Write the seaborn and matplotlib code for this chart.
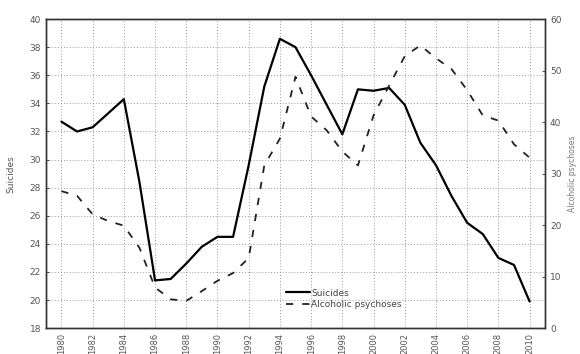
import matplotlib
matplotlib.use("Agg")
import matplotlib.pyplot as plt
import seaborn as sns
import pandas as pd

# -------------------------
# DATA
# -------------------------
years = list(range(1980, 2011))
suicides = [32.7, 32.0, 32.3, 33.3, 34.3, 28.4, 21.4, 21.5, 22.6, 23.8, 24.5,
            24.5, 29.6, 35.2, 38.6, 38.0, 36.0, 33.9, 31.8, 35.0, 34.9,
            35.1, 33.9, 31.2, 29.6, 27.4, 25.5, 24.7, 23.0, 22.5, 19.9]
alcoholic = [26.6, 25.7, 22.1, 20.8, 19.9, 15.6, 7.9, 5.6, 5.3, 7.2, 9.2,
             10.7, 13.6, 31.6, 36.8, 48.8, 41.1, 38.4, 34.3, 31.6, 41.3,
             47.1, 52.8, 54.9, 52.4, 50.3, 46.2, 41.3, 40.3, 35.7, 33.1]

df = pd.DataFrame({"Year": years, "Suicides": suicides, "Alcoholic psychoses": alcoholic})

# -------------------------
# PLOT
# -------------------------
sns.set_style("white")
plt.rcParams["font.family"] = ["DejaVu Sans"]

fig = plt.figure(figsize=(5.8, 3.54), dpi=100)
ax = fig.add_axes([0.079, 0.073, 0.861, 0.873])
ax2 = ax.twinx()

sns.lineplot(data=df, x="Year", y="Suicides", ax=ax, color="black",
             linewidth=1.6, label="Suicides", legend=False)
sns.lineplot(data=df, x="Year", y="Alcoholic psychoses", ax=ax2, color="#222222",
             linewidth=1.3, linestyle=(0, (4, 5)), label="Alcoholic psychoses", legend=False)

ax.set_xlim(1979, 2011)
ax.set_ylim(18, 40)
ax2.set_ylim(0, 60)
ax.set_xticks(range(1980, 2011, 2))
ax.set_yticks(range(18, 41, 2))
ax2.set_yticks(range(0, 61, 10))

ax.grid(True, color="#999999", linestyle=(0, (1, 2)), linewidth=0.7)
ax.set_axisbelow(True)

lab = "#555555"
ax.tick_params(axis="x", labelrotation=90, labelsize=6, colors=lab, direction="in", length=2)
ax.tick_params(axis="y", labelsize=6.5, colors=lab, direction="in", length=2)
ax2.tick_params(axis="y", labelsize=6.5, colors=lab, direction="in", length=2)

ax.set_xlabel("")
ax.set_ylabel("Suicides", fontsize=6.5, color=lab, labelpad=10)
ax2.set_ylabel("Alcoholic psychoses", fontsize=5.5, color="#777777")
ax2.yaxis.set_label_coords(1.045, 0.5)

for a in (ax, ax2):
    for s in a.spines.values():
        s.set_color("#333333")
        s.set_linewidth(1.0)
        s.set_linestyle((0, (1, 1)))

h1, l1 = ax.get_legend_handles_labels()
h2, l2 = ax2.get_legend_handles_labels()
ax.legend(h1 + h2, l1 + l2, loc="lower left", bbox_to_anchor=(0.465, 0.035),
          frameon=False, fontsize=6.5, handlelength=2.6, handletextpad=0.2,
          labelspacing=0.3, labelcolor="#444444")

plt.savefig("out.png", dpi=100)
